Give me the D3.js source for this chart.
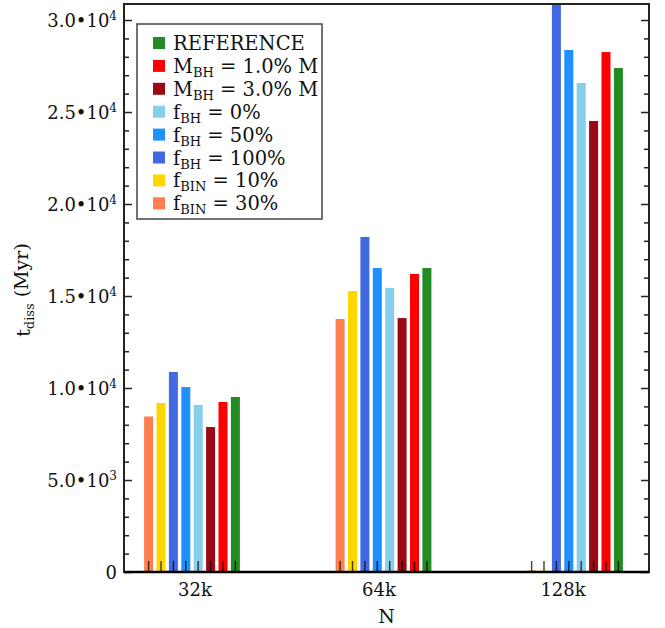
<!DOCTYPE html>
<html>
<head>
<meta charset="utf-8">
<script src="https://cdn.jsdelivr.net/npm/d3@7"></script>
<style>
  body { margin: 0; background: #fff; }
  text { font-family: "DejaVu Serif", serif; fill: #111; }
</style>
</head>
<body>
<script>
// data
const groups = ["32k", "64k", "128k"];
const series = ["fBIN30", "fBIN10", "fBH100", "fBH50", "fBH0", "MBH3", "MBH1", "REF"];
const seriesColors = ["#ff7f50", "#ffd700", "#4169e1", "#1e90ff", "#87ceeb", "#9b0a14", "#ff0000", "#228b22"];
// t_diss in Myr, same order as series
const values32k = [8450, 9190, 10870, 10050, 9080, 7880, 9240, 9510];
const values64k = [13750, 15270, 18210, 16520, 15440, 13800, 16200, 16520];
const values128k = [0, 0, 31500, 28370, 26580, 24510, 28260, 27390];
const yTickValues = [0, 5000, 10000, 15000, 20000, 25000, 30000];
// legend rows top to bottom: key, text, subscript, rest
const legendRows = [
  ["REF", "REFERENCE", "", ""],
  ["MBH1", "M", "BH", " = 1.0% M"],
  ["MBH3", "M", "BH", " = 3.0% M"],
  ["fBH0", "f", "BH", " = 0%"],
  ["fBH50", "f", "BH", " = 50%"],
  ["fBH100", "f", "BH", " = 100%"],
  ["fBIN10", "f", "BIN", " = 10%"],
  ["fBIN30", "f", "BIN", " = 30%"]
];

const table = groups.map((g, i) => ({
  group: g,
  values: [values32k, values64k, values128k][i].map((v, j) => ({ key: series[j], value: v }))
}));

// constants
const W = 665, H = 628;
const margin = { left: 124, right: 16, top: 4, bottom: 56 };
const width = W - margin.left - margin.right;
const height = H - margin.top - margin.bottom;

const svg = d3.select("body").append("svg")
  .attr("width", W)
  .attr("height", H);

const g = svg.append("g").attr("transform", `translate(${margin.left},${margin.top})`);

// scales
const y = d3.scaleLinear().domain([0, 30870]).range([height, 0]);
const xGroup = d3.scalePoint().domain(groups).range([68, 451]);
const xLabel = d3.scalePoint().domain(groups).range([70.5, 438.5]);
const xInner = d3.scaleBand().domain(series).range([-47.9, 47.9]).paddingInner(0.274);
const color = d3.scaleOrdinal().domain(series).range(seriesColors);

g.append("clipPath").attr("id", "plot-clip")
  .append("rect").attr("width", width).attr("height", height);

// bars
const groupSel = g.append("g").attr("clip-path", "url(#plot-clip)")
  .selectAll(".grp")
  .data(table)
  .join("g")
  .attr("class", "grp")
  .attr("transform", d => `translate(${xGroup(d.group)},0)`);

groupSel.selectAll("rect")
  .data(d => d.values)
  .join("rect")
  .attr("x", d => xInner(d.key))
  .attr("width", xInner.bandwidth())
  .attr("y", d => Math.min(y(d.value), height - 1.5))
  .attr("height", d => Math.max(height - y(d.value), 1.5))
  .attr("fill", d => color(d.key));

// little ticks at the foot of every bar
groupSel.selectAll("line")
  .data(d => d.values)
  .join("line")
  .attr("x1", d => xInner(d.key) + xInner.bandwidth() / 2)
  .attr("x2", d => xInner(d.key) + xInner.bandwidth() / 2)
  .attr("y1", height)
  .attr("y2", height - 11)
  .attr("stroke", "#000")
  .attr("stroke-opacity", 0.75)
  .attr("stroke-width", 1.4);

// y axes (ticks inward, left and right)
function fmt(v) {
  if (v === 0) return ["0", ""];
  const e = Math.floor(Math.log10(v));
  return [(v / Math.pow(10, e)).toFixed(1) + "\u202210", String(e)];
}
const minorValues = d3.range(0, 31000, 1000).filter(v => v % 5000 !== 0);

const yLeft = g.append("g")
  .call(d3.axisLeft(y).tickValues(yTickValues).tickSize(-8).tickPadding(7));
yLeft.selectAll(".tick text").each(function(d) {
  const t = d3.select(this).text(null).style("font-size", "18px").attr("dy", "0.35em");
  const [base, sup] = fmt(d);
  t.append("tspan").text(base);
  if (sup) t.append("tspan").attr("dy", "-0.55em").style("font-size", "12px").text(sup);
});
g.append("g").call(d3.axisLeft(y).tickValues(minorValues).tickSize(-5).tickFormat(""));
g.append("g").attr("transform", `translate(${width},0)`)
  .call(d3.axisRight(y).tickValues(yTickValues).tickSize(-8).tickFormat(""));
g.append("g").attr("transform", `translate(${width},0)`)
  .call(d3.axisRight(y).tickValues(minorValues).tickSize(-5).tickFormat(""));
g.selectAll(".domain").remove();
g.selectAll(".tick line").attr("stroke", "#222").attr("stroke-width", 1.5);

// x axis labels
const xAxis = g.append("g").attr("transform", `translate(0,${height})`)
  .call(d3.axisBottom(xLabel).tickSize(0).tickPadding(11));
xAxis.select(".domain").remove();
xAxis.selectAll(".tick text").style("font-size", "18px");

// frame
g.append("rect")
  .attr("width", width)
  .attr("height", height)
  .attr("fill", "none")
  .attr("stroke", "#222")
  .attr("stroke-width", 2);
g.append("line")
  .attr("x1", 0).attr("x2", width)
  .attr("y1", height).attr("y2", height)
  .attr("stroke", "#000").attr("stroke-width", 2.5);

// axis titles
svg.append("text")
  .attr("x", margin.left + width / 2)
  .attr("y", 623)
  .attr("text-anchor", "middle")
  .style("font-size", "19px")
  .text("N");

const yTitle = svg.append("text")
  .attr("transform", `translate(30,290) rotate(-90)`)
  .attr("text-anchor", "middle")
  .style("font-size", "19px");
yTitle.append("tspan").text("t");
yTitle.append("tspan").attr("dy", "0.3em").style("font-size", "13px").text("diss");
yTitle.append("tspan").attr("dy", "-0.3em").text(" (Myr)");

// legend
const legend = g.append("g").attr("transform", "translate(13,20)");
legend.append("rect")
  .attr("width", 185)
  .attr("height", 195)
  .attr("fill", "#fff")
  .attr("stroke", "#444")
  .attr("stroke-width", 1.5);

const row = legend.selectAll(".row")
  .data(legendRows)
  .join("g")
  .attr("class", "row")
  .attr("transform", (d, i) => `translate(0,${19 + i * 22.9})`);

row.append("rect")
  .attr("x", 16).attr("y", -6)
  .attr("width", 12).attr("height", 12)
  .attr("fill", d => color(d[0]));

row.each(function(d) {
  const t = d3.select(this).append("text")
    .attr("x", 36).attr("y", 7)
    .style("font-size", "19.5px");
  t.append("tspan").text(d[1]);
  if (d[2]) {
    t.append("tspan").attr("dy", 4).style("font-size", "13px").text(d[2]);
    t.append("tspan").attr("dy", -4).text(d[3]);
  }
});
</script>
</body>
</html>
